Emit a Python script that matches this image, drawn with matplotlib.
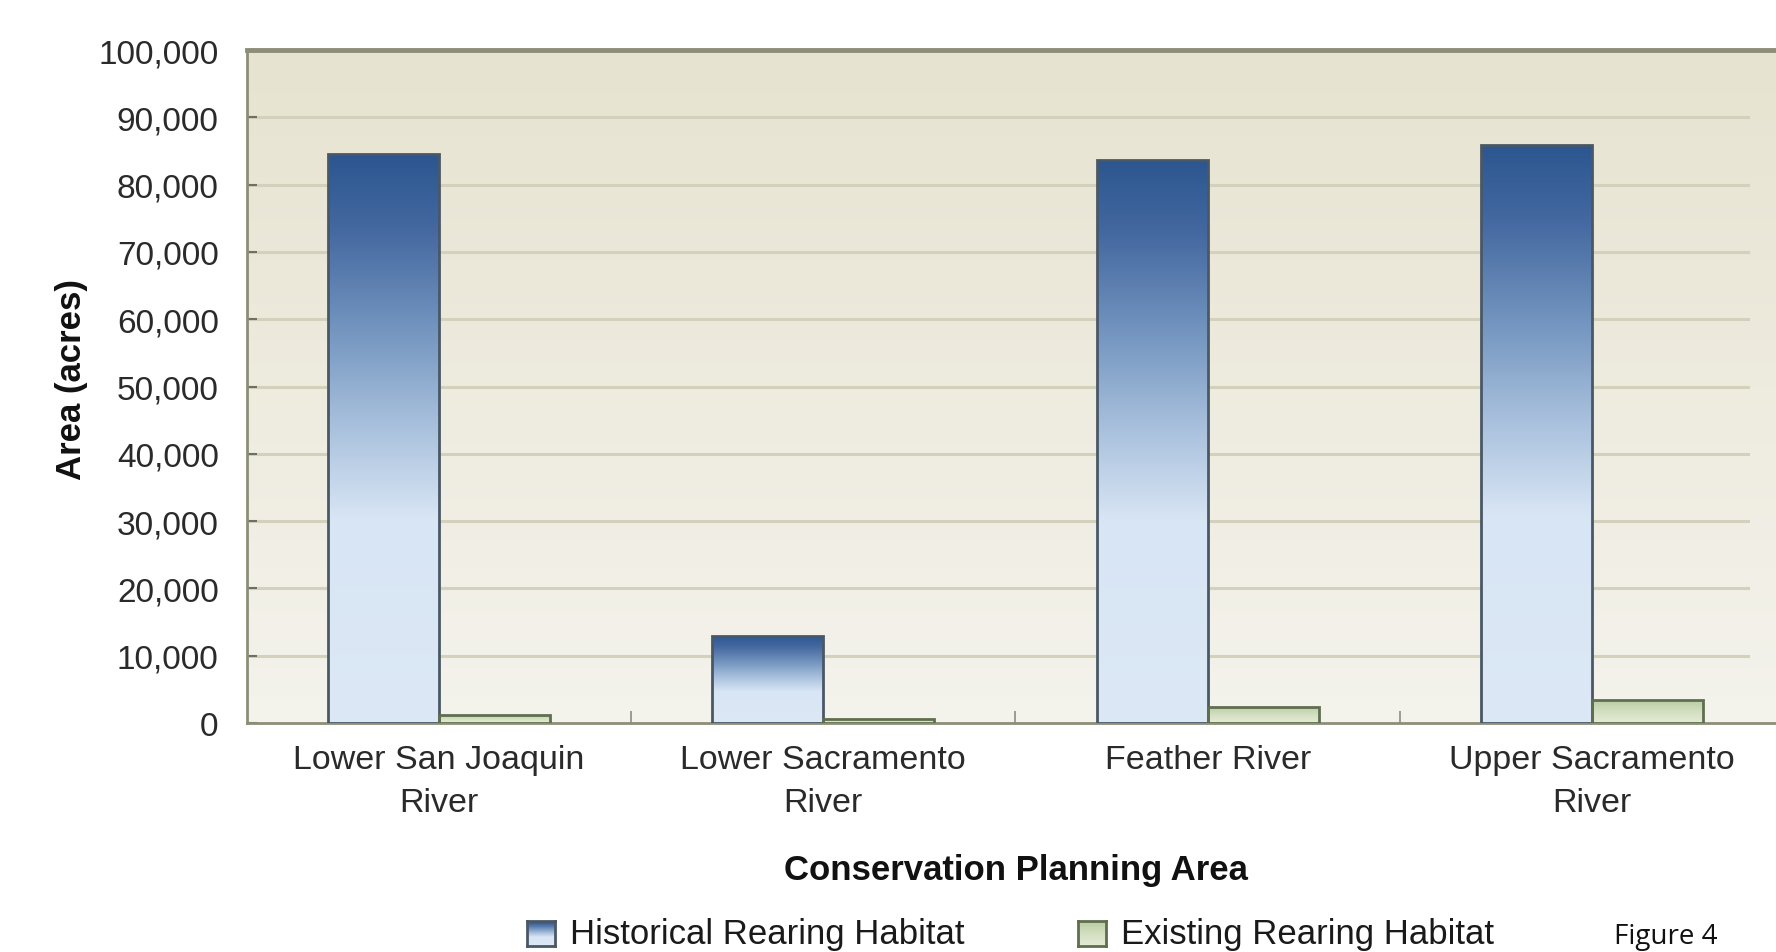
import numpy as np
import matplotlib
matplotlib.use("Agg")
import matplotlib.pyplot as plt
from matplotlib.colors import LinearSegmentedColormap
from matplotlib.patches import Rectangle

# ---- data ----
categories = ["Lower San Joaquin\nRiver", "Lower Sacramento\nRiver", "Feather River", "Upper Sacramento\nRiver"]
historical = [84500, 13000, 83700, 85900]
existing = [1200, 600, 2400, 3400]
series_names = ["Historical Rearing Habitat", "Existing Rearing Habitat"]
yticks = [0, 10000, 20000, 30000, 40000, 50000, 60000, 70000, 80000, 90000, 100000]
ytick_labels = ["0", "10,000", "20,000", "30,000", "40,000", "50,000", "60,000",
                "70,000", "80,000", "90,000", "100,000"]
xlabel = "Conservation Planning Area"
ylabel = "Area (acres)"
note = "Figure 4"

plt.rcParams['font.family'] = ['Liberation Sans', 'DejaVu Sans']

W, H = 1776, 953
fig = plt.figure(figsize=(W / 100, H / 100), dpi=100)
fig.patch.set_facecolor("white")

ax_left = 246.5 / W
ax_bottom = (H - 724) / H
ax_top = (H - 51) / H
ax = fig.add_axes([ax_left, ax_bottom, 1.0 - ax_left, ax_top - ax_bottom])

x = np.arange(len(categories))
bw = 0.289
x_right = 3.478
ax.set_xlim(-0.5, x_right)
ax.set_ylim(0, 100000)

# background gradient
bg_cmap = LinearSegmentedColormap.from_list("bg", ["#F4F3EC", "#EEEBDF", "#E6E3D0"])
grad = np.linspace(0, 1, 256).reshape(-1, 1)
ax.imshow(grad, aspect="auto", cmap=bg_cmap, origin="lower",
          extent=[-0.5, x_right, 0, 100000], zorder=0)

# grid lines
for yv in yticks[1:-1]:
    ax.axhline(yv, xmin=0, xmax=0.982, color="#D3D0BC", lw=2.2, zorder=1)

hist_cmap = LinearSegmentedColormap.from_list(
    "hist", [(0.0, "#DCE8F5"), (0.36, "#D8E5F4"), (0.52, "#A9C1DD"),
             (0.70, "#7193BE"), (0.87, "#4468A0"), (1.0, "#2C5690")])
ex_cmap = LinearSegmentedColormap.from_list(
    "ex", [(0.0, "#E4EBD6"), (0.5, "#D3DFC1"), (1.0, "#B9CBA3")])


def gradient_bar(x0, width, height, cmap, edge, zorder=3):
    g = np.linspace(0, 1, 256).reshape(-1, 1)
    im = ax.imshow(g, aspect="auto", cmap=cmap, origin="lower",
                   extent=[x0, x0 + width, 0, height], zorder=zorder)
    rect = Rectangle((x0, 0), width, height, facecolor="none",
                     edgecolor=edge, lw=2.0, zorder=zorder + 1)
    ax.add_patch(rect)
    im.set_clip_path(rect)


for i in range(len(categories)):
    gradient_bar(x[i] - bw, bw, historical[i], hist_cmap, "#4A5866")
    gradient_bar(x[i], bw, existing[i], ex_cmap, "#5F6E4E")

ax.set_xlim(-0.5, x_right)
ax.set_ylim(0, 100000)

# spines
for s in ["left", "bottom"]:
    ax.spines[s].set_color("#8C8E78")
    ax.spines[s].set_linewidth(2.0)
ax.spines["top"].set_color("#8C8E78")
ax.spines["top"].set_linewidth(3.5)
ax.spines["right"].set_visible(False)

# ticks
ax.set_yticks(yticks)
ax.set_yticklabels(ytick_labels)
ax.tick_params(axis="y", direction="in", length=7, width=1.5, color="#6E7060",
               labelsize=24, labelcolor="#2A2A2A", pad=20)
ax.set_xticks(x)
ax.set_xticklabels(categories, linespacing=1.5)
ax.tick_params(axis="x", which="major", length=0, labelsize=24.5,
               labelcolor="#2A2A2A", pad=15)
ax.set_xticks([0.5, 1.5, 2.5], minor=True)
ax.tick_params(axis="x", which="minor", direction="in", length=9, width=1.2,
               color="#8C8E78")

fig.text(1016 / W, 1 - 871 / H, xlabel, ha="center", va="center",
         fontsize=25, fontweight="bold", color="#111111")
fig.text(71 / W, 1 - 380 / H, ylabel, ha="center", va="center", rotation=90,
         fontsize=25, fontweight="bold", color="#111111")

# legend (manual)
leg_y = 1 - 947 / H
sw_h = 25 / H
sw_w = 28 / W
swatches = [(527, hist_cmap, "#4A5866", 570), (1078, ex_cmap, "#5F6E4E", 1121)]
for (px, cmap, edge, tx), name in zip(swatches, series_names):
    sax = fig.add_axes([px / W, leg_y, sw_w, sw_h])
    sax.imshow(np.linspace(0, 1, 64).reshape(-1, 1), aspect="auto",
               cmap=cmap, origin="lower", extent=[0, 1, 0, 1])
    sax.set_xticks([])
    sax.set_yticks([])
    for s in sax.spines.values():
        s.set_color(edge)
        s.set_linewidth(2)
    fig.text(tx / W, 1 - 935 / H, name, ha="left", va="center",
             fontsize=25, color="#1A1A1A")

fig.text(1614 / W, 2 / H, note, ha="left", va="bottom",
         fontsize=20, family=["Open Sans", "DejaVu Sans"], color="#111111")

fig.savefig("out.png", dpi=100)
